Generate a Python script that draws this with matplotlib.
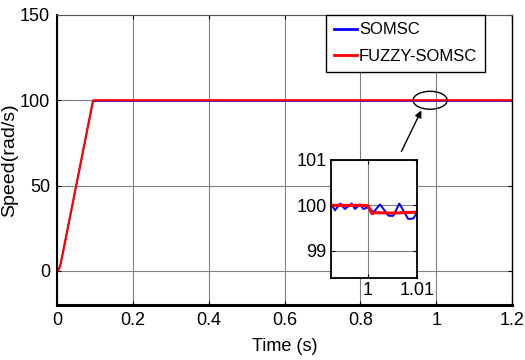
import matplotlib
matplotlib.use('Agg')
import matplotlib.pyplot as plt
from matplotlib.patches import Ellipse

# main traces
t_main = [0, 0.003, 0.006, 0.01, 0.095, 0.1, 0.5, 1.0, 1.2]
somsc_main = [0, 0.3, 1.5, 4.5, 99.4, 99.5, 99.5, 99.5, 99.5]
fuzzy_main = [0, 0.3, 1.5, 4.5, 99.8, 100, 100, 100, 100]

# zoomed traces
t_zoom_somsc = [0.99245, 0.99327, 0.99435, 0.99527, 0.99667, 0.99735, 0.99837,
                0.99905, 1.00007, 1.0011, 1.00245, 1.0042, 1.00517, 1.00639,
                1.0082, 1.00925, 1.0098]
somsc_zoom = [100.04, 99.89, 100.04, 99.92, 100.04, 99.92, 100.02, 99.92,
              99.96, 99.85, 100.02, 99.77, 99.77, 100.04, 99.70, 99.71, 99.81]
t_zoom_fuzzy = [0.99245, 0.9990, 1.0000, 1.0008, 1.0015, 1.0050, 1.0098]
fuzzy_zoom = [100.00, 100.00, 99.99, 99.82, 99.84, 99.83, 99.85]

xticks = [0, 0.2, 0.4, 0.6, 0.8, 1.0, 1.2]
xtick_labels = ['0', '0.2', '0.4', '0.6', '0.8', '1', '1.2']
yticks = [0, 50, 100, 150]

plt.rcParams['font.family'] = ['Liberation Sans', 'DejaVu Sans']
tick_fs = 13

fig = plt.figure(figsize=(5.25, 3.6), dpi=100)
ax = fig.add_axes([0.1086, 0.1528, 0.8667, 0.8056])

ax.plot(t_main, somsc_main, color='blue', lw=1.0, label='SOMSC')
ax.plot(t_main, fuzzy_main, color='red', lw=1.6, label='FUZZY-SOMSC')

ax.set_xlim(0, 1.2)
ax.set_ylim(-20, 150)
ax.set_xticks(xticks)
ax.set_xticklabels(xtick_labels, fontsize=tick_fs)
ax.set_yticks(yticks)
ax.set_yticklabels([str(v) for v in yticks], fontsize=tick_fs)
ax.grid(True, color='#808080', lw=0.8)
ax.tick_params(direction='in', length=3, top=True, right=True, pad=5)
ax.spines['bottom'].set_linewidth(2.2)
ax.spines['left'].set_linewidth(1.5)
ax.spines['top'].set_color('#555555')
ax.spines['right'].set_linewidth(1.0)
ax.set_xlabel('Time (s)', fontsize=13)
ax.set_ylabel('Speed(rad/s)', fontsize=14)
ax.xaxis.set_label_coords(0.5, -0.115)
ax.yaxis.set_label_coords(-0.085, 0.5)

leg = ax.legend(loc='upper right', bbox_to_anchor=(0.94, 1.0), handlelength=1.4,
                handletextpad=0.1, borderpad=0.45, labelspacing=0.7,
                fancybox=False, framealpha=1, borderaxespad=0,
                prop={'size': 12})
leg.get_frame().set_edgecolor('black')
leg.get_frame().set_linewidth(1.0)
for ln in leg.get_lines():
    ln.set_linewidth(2.0)

ax.add_patch(Ellipse((0.984, 100), 0.09, 10.5, fill=False, ec='black', lw=1.0, zorder=5))
ax.annotate('', xy=(0.964, 95.5), xytext=(0.905, 68.5),
            arrowprops=dict(arrowstyle='-|>', color='black', lw=1.0, mutation_scale=10))

# inset
axin = fig.add_axes([0.6305, 0.2278, 0.1638, 0.3278])
axin.plot(t_zoom_somsc, somsc_zoom, color='blue', lw=1.4)
axin.plot(t_zoom_fuzzy, fuzzy_zoom, color='red', lw=2.2)
axin.set_xlim(0.99245, 1.01)
axin.set_ylim(98.4, 101)
axin.set_xticks([1.0, 1.01])
axin.set_xticklabels(['1', '1.01'], fontsize=tick_fs)
axin.set_yticks([99, 100, 101])
axin.set_yticklabels(['99', '100', '101'], fontsize=tick_fs)
axin.grid(True, color='#808080', lw=0.8)
axin.tick_params(direction='in', length=3, top=True, right=True, pad=3)
for s in axin.spines.values():
    s.set_linewidth(1.3)

fig.savefig('out.png', dpi=100)
